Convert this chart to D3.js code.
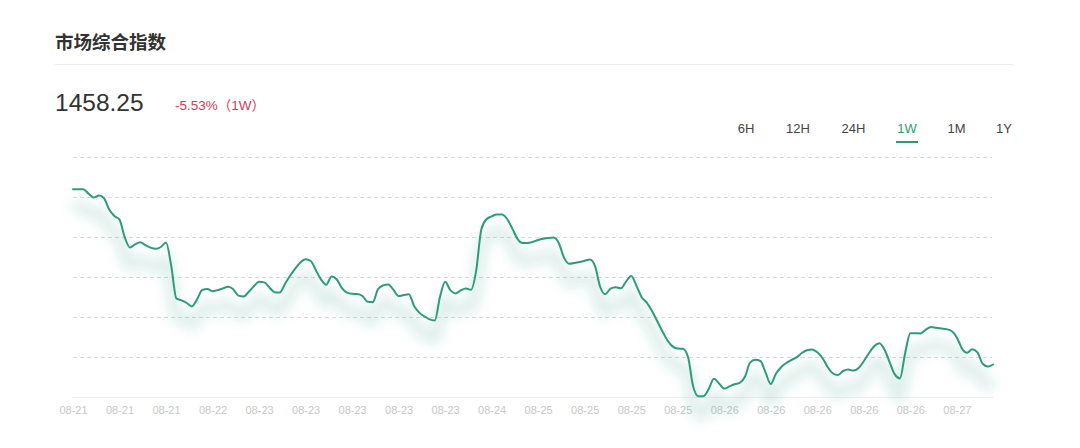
<!DOCTYPE html>
<html>
<head>
<meta charset="utf-8">
<script src="https://cdn.jsdelivr.net/npm/d3@7"></script>
<style>
  html, body { margin: 0; padding: 0; background: #fff; }
  svg { display: block; font-family: "Helvetica Neue", "Liberation Sans", Arial, "Noto Sans CJK SC", sans-serif; }
</style>
</head>
<body>
<svg id="chart" width="1080" height="448"></svg>
<script>
// ---- data ----
const title = "市场综合指数";
const currentValue = "1458.25";
const changeText = "-5.53%（1W）";
const ranges = ["6H", "12H", "24H", "1W", "1M", "1Y"];
const activeRange = "1W";
const tickLabels = ["08-21","08-21","08-21","08-22","08-23","08-23","08-23","08-23","08-23","08-24",
                    "08-25","08-25","08-25","08-25","08-26","08-26","08-26","08-26","08-26","08-27"];
const tickEvery = 9;
const values = [
1545.9,1545.9,1545.9,1543.7,1541.7,1542.7,1541.4,1535.7,1532.5,1530.7,
1521.9,1516.8,1518.3,1519.4,1517.9,1516.7,1516.1,1517.0,1519.2,1507.6,
1491.3,1490.3,1489.0,1487.3,1490.8,1495.5,1496.0,1494.9,1495.5,1496.3,
1497.1,1495.9,1492.7,1492.3,1494.6,1497.4,1499.6,1499.3,1496.8,1494.4,
1494.2,1498.5,1502.6,1506.2,1509.3,1510.9,1510.0,1505.4,1500.7,1498.1,
1502.3,1500.9,1496.6,1494.2,1493.6,1493.5,1492.5,1489.6,1489.4,1495.9,
1497.8,1498.3,1495.6,1492.5,1493.0,1493.4,1487.5,1484.2,1482.3,1480.8,
1480.3,1492.0,1499.6,1495.4,1493.8,1495.3,1496.3,1495.6,1505.1,1525.8,
1530.9,1532.3,1533.3,1533.3,1531.0,1526.2,1521.1,1519.0,1519.0,1519.6,
1520.5,1521.1,1521.5,1521.7,1518.9,1511.7,1508.6,1509.0,1509.5,1510.1,
1510.7,1507.4,1497.0,1493.4,1496.2,1496.9,1496.4,1499.7,1502.5,1497.7,
1492.0,1489.2,1485.1,1480.1,1475.0,1470.4,1467.3,1466.2,1466.1,1461.9,
1447.1,1442.4,1442.4,1446.0,1451.1,1448.8,1446.2,1447.3,1448.4,1449.1,
1452.1,1459.2,1460.6,1460.0,1454.2,1448.5,1453.6,1456.9,1459.0,1460.5,
1461.8,1464.0,1465.4,1465.8,1464.4,1461.5,1457.0,1453.9,1453.0,1455.0,
1455.7,1455.2,1456.5,1459.9,1463.9,1467.4,1468.9,1465.8,1459.4,1453.3,
1451.3,1463.9,1473.9,1473.9,1473.8,1475.7,1477.0,1476.6,1476.2,1475.9,
1475.0,1471.8,1466.2,1464.1,1465.9,1464.3,1458.6,1457.2,1458.25
];
const yDomain = [1442, 1562];
const gridValues = [1442, 1462, 1482, 1502, 1522, 1542, 1562];

// ---- layout ----
const svg = d3.select("#chart");
const plotLeft = 73, plotRight = 993, plotTop = 157, plotBottom = 397;
const lineColor = "#2e9b7b";

const x = d3.scaleLinear().domain([0, values.length - 1]).range([plotLeft, plotRight]);
const y = d3.scaleLinear().domain(yDomain).range([plotBottom, plotTop]);

// header
svg.append("text").attr("x", 55).attr("y", 49)
  .attr("font-size", 18.5).attr("font-weight", 600).attr("fill", "#333")
  .attr("font-family", "'Noto Sans CJK SC', sans-serif")
  .text(title);
svg.append("line").attr("x1", 55).attr("x2", 1013).attr("y1", 64.5).attr("y2", 64.5)
  .attr("stroke", "#ececec").attr("stroke-width", 1);

svg.append("text").attr("x", 55).attr("y", 111)
  .attr("font-size", 24.5).attr("fill", "#333").attr("font-weight", 400)
  .text(currentValue);
svg.append("text").attr("x", 175).attr("y", 110)
  .attr("font-size", 13.5).attr("fill", "#d6385a")
  .text(changeText);

// range buttons
const btnCenters = {"6H":746, "12H":798, "24H":853.5, "1W":907, "1M":956.5, "1Y":1004};
const btns = svg.append("g");
ranges.forEach(r => {
  const cx = btnCenters[r];
  btns.append("text").attr("x", cx).attr("y", 133).attr("text-anchor", "middle")
    .attr("font-size", 13).attr("fill", r === activeRange ? "#2e9b6f" : "#444")
    .text(r);
  if (r === activeRange) {
    btns.append("line").attr("x1", cx - 11).attr("x2", cx + 11).attr("y1", 142).attr("y2", 142)
      .attr("stroke", "#2e9b6f").attr("stroke-width", 2);
  }
});

// grid
const grid = svg.append("g");
grid.selectAll("line.g").data(gridValues.slice(1)).join("line")
  .attr("x1", plotLeft).attr("x2", plotRight - 1)
  .attr("y1", d => Math.round(y(d)) + 0.5).attr("y2", d => Math.round(y(d)) + 0.5)
  .attr("stroke", "#d9d9d9").attr("stroke-width", 1).attr("stroke-dasharray", "4,3");
grid.append("line").attr("x1", plotLeft - 1).attr("x2", plotRight)
  .attr("y1", Math.round(y(yDomain[0])) + 0.5).attr("y2", Math.round(y(yDomain[0])) + 0.5)
  .attr("stroke", "#eeeeee").attr("stroke-width", 1);

// x axis labels
const tickIdx = tickLabels.map((d, i) => i * tickEvery);
const xAxis = d3.axisBottom(x).tickValues(tickIdx).tickSize(0).tickPadding(0)
  .tickFormat((d, i) => tickLabels[i]);
const ax = svg.append("g").attr("transform", `translate(0,${plotBottom + 9})`).call(xAxis);
ax.select(".domain").remove();
ax.selectAll("text").attr("font-size", 11).attr("fill", "#c8c8c8")
  .attr("font-family", "'Helvetica Neue', 'Liberation Sans', Arial, sans-serif");

// line + shadow
const line = d3.line().x((d, i) => x(i)).y(d => y(d)).curve(d3.curveMonotoneX);
const defs = svg.append("defs");
defs.append("filter").attr("id", "blur").attr("x", "-10%").attr("y", "-50%").attr("width", "120%").attr("height", "200%")
  .append("feGaussianBlur").attr("stdDeviation", 6);

svg.append("path").datum(values)
  .attr("d", line)
  .attr("transform", "translate(0,18)")
  .attr("fill", "none").attr("stroke", lineColor).attr("stroke-opacity", 0.17)
  .attr("stroke-width", 11).attr("filter", "url(#blur)");

svg.append("path").datum(values)
  .attr("d", line)
  .attr("fill", "none").attr("stroke", lineColor).attr("stroke-width", 2)
  .attr("stroke-linejoin", "round").attr("stroke-linecap", "round");
</script>
</body>
</html>
